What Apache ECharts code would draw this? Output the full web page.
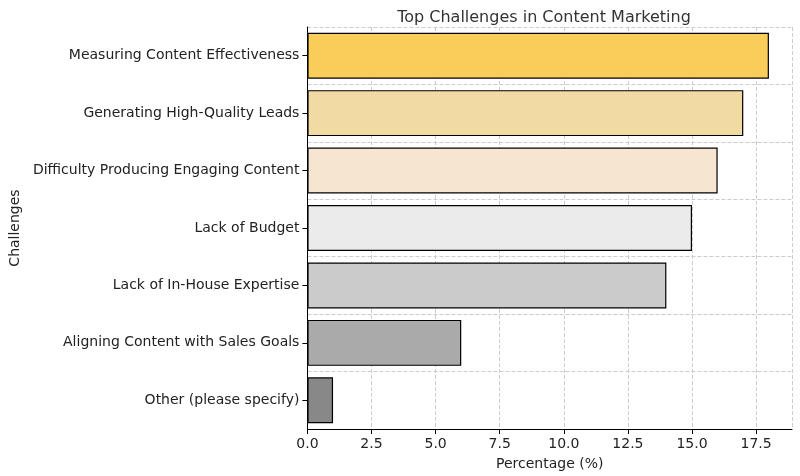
<!DOCTYPE html>
<html><head><meta charset="utf-8">
<script src="https://cdn.jsdelivr.net/npm/echarts@6/dist/echarts.min.js"></script>
<style>html,body{margin:0;padding:0;background:#fff}#c{width:800px;height:476px}</style>
</head><body><div id="c"></div>
<script>
const categories = ["Other (please specify)","Aligning Content with Sales Goals","Lack of In-House Expertise","Lack of Budget","Difficulty Producing Engaging Content","Generating High-Quality Leads","Measuring Content Effectiveness"];
const values = [1,6,14,15,16,17,18];
const colors = ["#888888","#AAAAAA","#CBCBCB","#EBEBEB","#F7E6CF","#F2DBA3","#F9CD59"];
const chart = echarts.init(document.getElementById('c'));
const font = 'DejaVu Sans';
chart.setOption({
  animation:false,
  textStyle:{fontFamily:font},
  title:{text:'Top Challenges in Content Marketing',left:539,top:5,textAlign:'center',textStyle:{fontFamily:font,fontWeight:'normal',fontSize:16,color:'#333'}},
  grid:{left:287,right:8,top:27,bottom:44},
  xAxis:{type:'value',min:0,max:18.9,interval:2.5,
    name:'Percentage (%)',nameLocation:'middle',nameGap:28,nameTextStyle:{fontSize:14,color:'#222'},
    axisLine:{show:true,lineStyle:{color:'#000'}},axisTick:{show:true,lineStyle:{color:'#000'}},
    axisLabel:{fontSize:14,color:'#222',showMaxLabel:false,formatter:v=>v.toFixed(1)},
    splitLine:{show:true,lineStyle:{type:'dashed',color:'#ccc'}}},
  yAxis:{type:'category',data:categories,
    name:'Challenges',nameLocation:'middle',nameGap:270,nameTextStyle:{fontSize:14,color:'#222'},
    axisLine:{show:true,lineStyle:{color:'#000'}},axisTick:{show:true,alignWithLabel:true,lineStyle:{color:'#000'}},
    axisLabel:{fontSize:14,color:'#222'},
    splitLine:{show:true,lineStyle:{type:'dashed',color:'#ccc'}}},
  series:[{type:'bar',barCategoryGap:'20%',
    data:values.map((v,i)=>({value:v,itemStyle:{color:colors[i]}})),
    itemStyle:{borderColor:'#000',borderWidth:1.2}}]
});
</script></body></html>
